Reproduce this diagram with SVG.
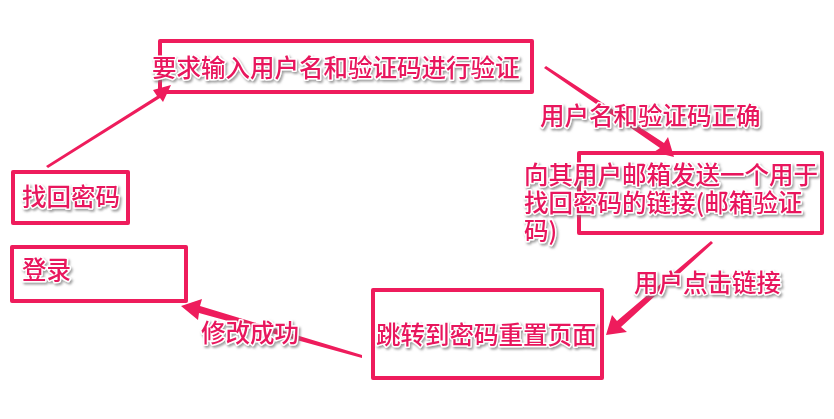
<svg xmlns="http://www.w3.org/2000/svg" width="834" height="419" viewBox="0 0 834 419">
<defs>
<style>
.box{fill:none;stroke:#EE1C5C;stroke-width:4;stroke-linejoin:round}
.t{font-family:"Microsoft YaHei","Noto Sans CJK SC",sans-serif;font-size:24.5px;font-weight:500;fill:#E8175D;stroke:#ffffff;stroke-width:3;paint-order:stroke;stroke-linejoin:round;filter:url(#sh)}
.arr{fill:#EE1C5C}
</style>
<filter id="sh" x="-10%" y="-30%" width="130%" height="170%">
<feDropShadow dx="1.5" dy="2" stdDeviation="1.2" flood-color="#777" flood-opacity="0.7"/>
</filter>
</defs>
<rect width="834" height="419" fill="#ffffff"/>
<g id="connectors">
<path class="arr" d="M46,166 L157,96 L153,90 L171,85 L163,102 L160,98 L48,168 Z"/>
<path class="arr" d="M546,66 L664,143 L668,137 L674,157 L654,152 L660,148 L544,68 Z"/>
<path class="arr" d="M713,243 L621,327 L627,332 L606,335 L612,315 L617,321 L711,241 Z"/>
<path class="arr" d="M362,358 L199,313 L198,320 L181,306 L202,299 L200,306 L362,355 Z"/>
</g>
<g id="node-verify">
<rect class="box" x="160" y="41" width="372" height="51"/>
<text class="t" x="152" y="77">要求输入用户名和验证码进行验证</text>
</g>
<g id="node-find">
<rect class="box" x="13" y="172" width="115" height="51"/>
<text class="t" x="22" y="206">找回密码</text>
</g>
<g id="node-login">
<rect class="box" x="12" y="247" width="174" height="54"/>
<text class="t" x="22" y="279">登录</text>
</g>
<g id="node-reset">
<rect class="box" x="373" y="290" width="229" height="88"/>
<text class="t" x="376" y="344">跳转到密码重置页面</text>
</g>
<g id="node-email">
<rect class="box" x="579" y="153" width="243" height="80"/>
<text class="t" x="524" y="184">向其用户邮箱发送一个用于<tspan x="524" y="212">找回密码的链接(邮箱验证</tspan><tspan x="524" y="240">码)</tspan></text>
</g>
<g id="labels">
<text class="t" x="540" y="125">用户名和验证码正确</text>
<text class="t" x="634" y="292">用户点击链接</text>
<text class="t" x="201" y="342">修改成功</text>
</g>
</svg>
